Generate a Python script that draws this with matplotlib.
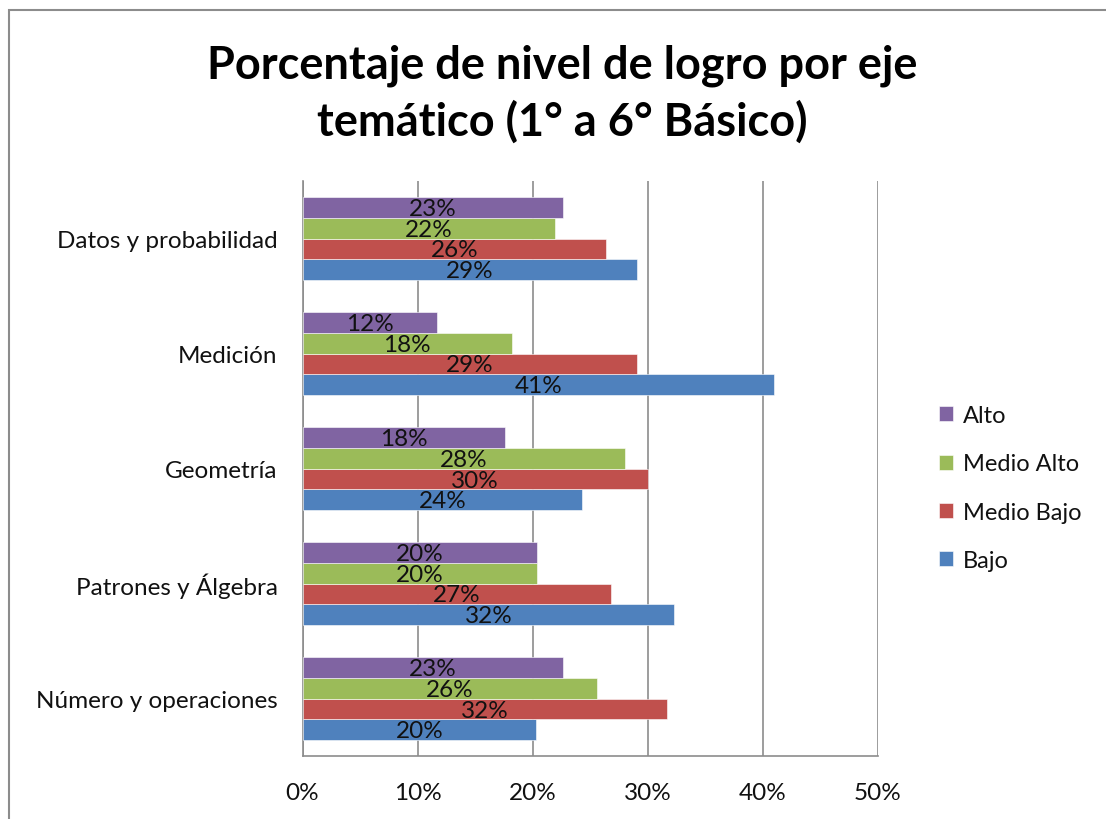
import numpy as np
import matplotlib
matplotlib.use('Agg')
import matplotlib.pyplot as plt
from matplotlib.patches import Rectangle
from matplotlib.ticker import PercentFormatter

# categorías (de abajo hacia arriba, como en Excel)
categorias = ['Número y operaciones', 'Patrones y Álgebra', 'Geometría',
              'Medición', 'Datos y probabilidad']
series = ['Bajo', 'Medio Bajo', 'Medio Alto', 'Alto']

bajo       = [20.3, 32.3, 24.3, 41.0, 29.1]
medio_bajo = [31.7, 26.8, 30.0, 29.1, 26.4]
medio_alto = [25.6, 20.4, 28.0, 18.2, 21.9]
alto       = [22.6, 20.4, 17.6, 11.7, 22.6]

colores = ['#4F81BD', '#C0504D', '#9BBB59', '#8064A2']
x_ticks = [0, 10, 20, 30, 40, 50]

FONT = 'Lato'

fig = plt.figure(figsize=(11.06, 8.2), dpi=100)
fig.patch.set_facecolor('white')

# marco del gráfico
fig.add_artist(Rectangle((9 / 1106, -0.05), 1.1, 1.05 - 11 / 820,
                         transform=fig.transFigure, fill=False,
                         edgecolor='#8c8c8c', lw=1.5))

ax = fig.add_axes([302.5 / 1106, 1 - 757 / 820, 575.5 / 1106, 575 / 820])

datos = [bajo, medio_bajo, medio_alto, alto]
y = np.arange(len(categorias))
h = 0.18
for i, (vals, nombre, col) in enumerate(zip(datos, series, colores)):
    pos = y + (i - 1.5) * h
    bars = ax.barh(pos, vals, height=h, color=col, label=nombre,
                   edgecolor='white', linewidth=0.4, zorder=3)
    for b, v in zip(bars, vals):
        ax.text(v / 2, b.get_y() + b.get_height() / 2 - 0.01, f'{v:.0f}%',
                ha='center', va='center', fontsize=17.5, family=FONT,
                color='#111111', zorder=4)

ax.set_xlim(0, 50)
ax.set_ylim(-0.5, len(categorias) - 0.5)
ax.set_xticks(x_ticks)
ax.xaxis.set_major_formatter(PercentFormatter(decimals=0))
ax.set_yticks(y)
ax.set_yticklabels(categorias)
ax.tick_params(axis='both', length=0, labelsize=17.5, labelcolor='#111111')
ax.tick_params(axis='x', pad=19)
ax.tick_params(axis='y', pad=18)
for lab in ax.get_xticklabels() + ax.get_yticklabels():
    lab.set_family(FONT)

ax.grid(axis='x', color='#8c8c8c', lw=1.2, zorder=0)
ax.set_axisbelow(True)
for s in ['top', 'right']:
    ax.spines[s].set_visible(False)
for s in ['left', 'bottom']:
    ax.spines[s].set_color('#8c8c8c')
    ax.spines[s].set_linewidth(1.2)

# leyenda (Alto arriba)
handles, labels = ax.get_legend_handles_labels()
fig.legend(handles[::-1], labels[::-1], loc='center left',
           bbox_to_anchor=(918 / 1106, 1 - 489 / 820), frameon=False,
           prop={'family': FONT, 'size': 17}, handlelength=0.6,
           handleheight=0.6, handletextpad=0.4, labelspacing=1.15,
           labelcolor='#111111')

fig.text(562 / 1106, 1 - 94 / 820,
         'Porcentaje de nivel de logro por eje\ntemático (1° a 6° Básico)',
         ha='center', va='center', fontsize=32.5, fontweight='bold',
         family=FONT, color='black', linespacing=1.38)

fig.savefig('out.png', dpi=100, facecolor='white')
